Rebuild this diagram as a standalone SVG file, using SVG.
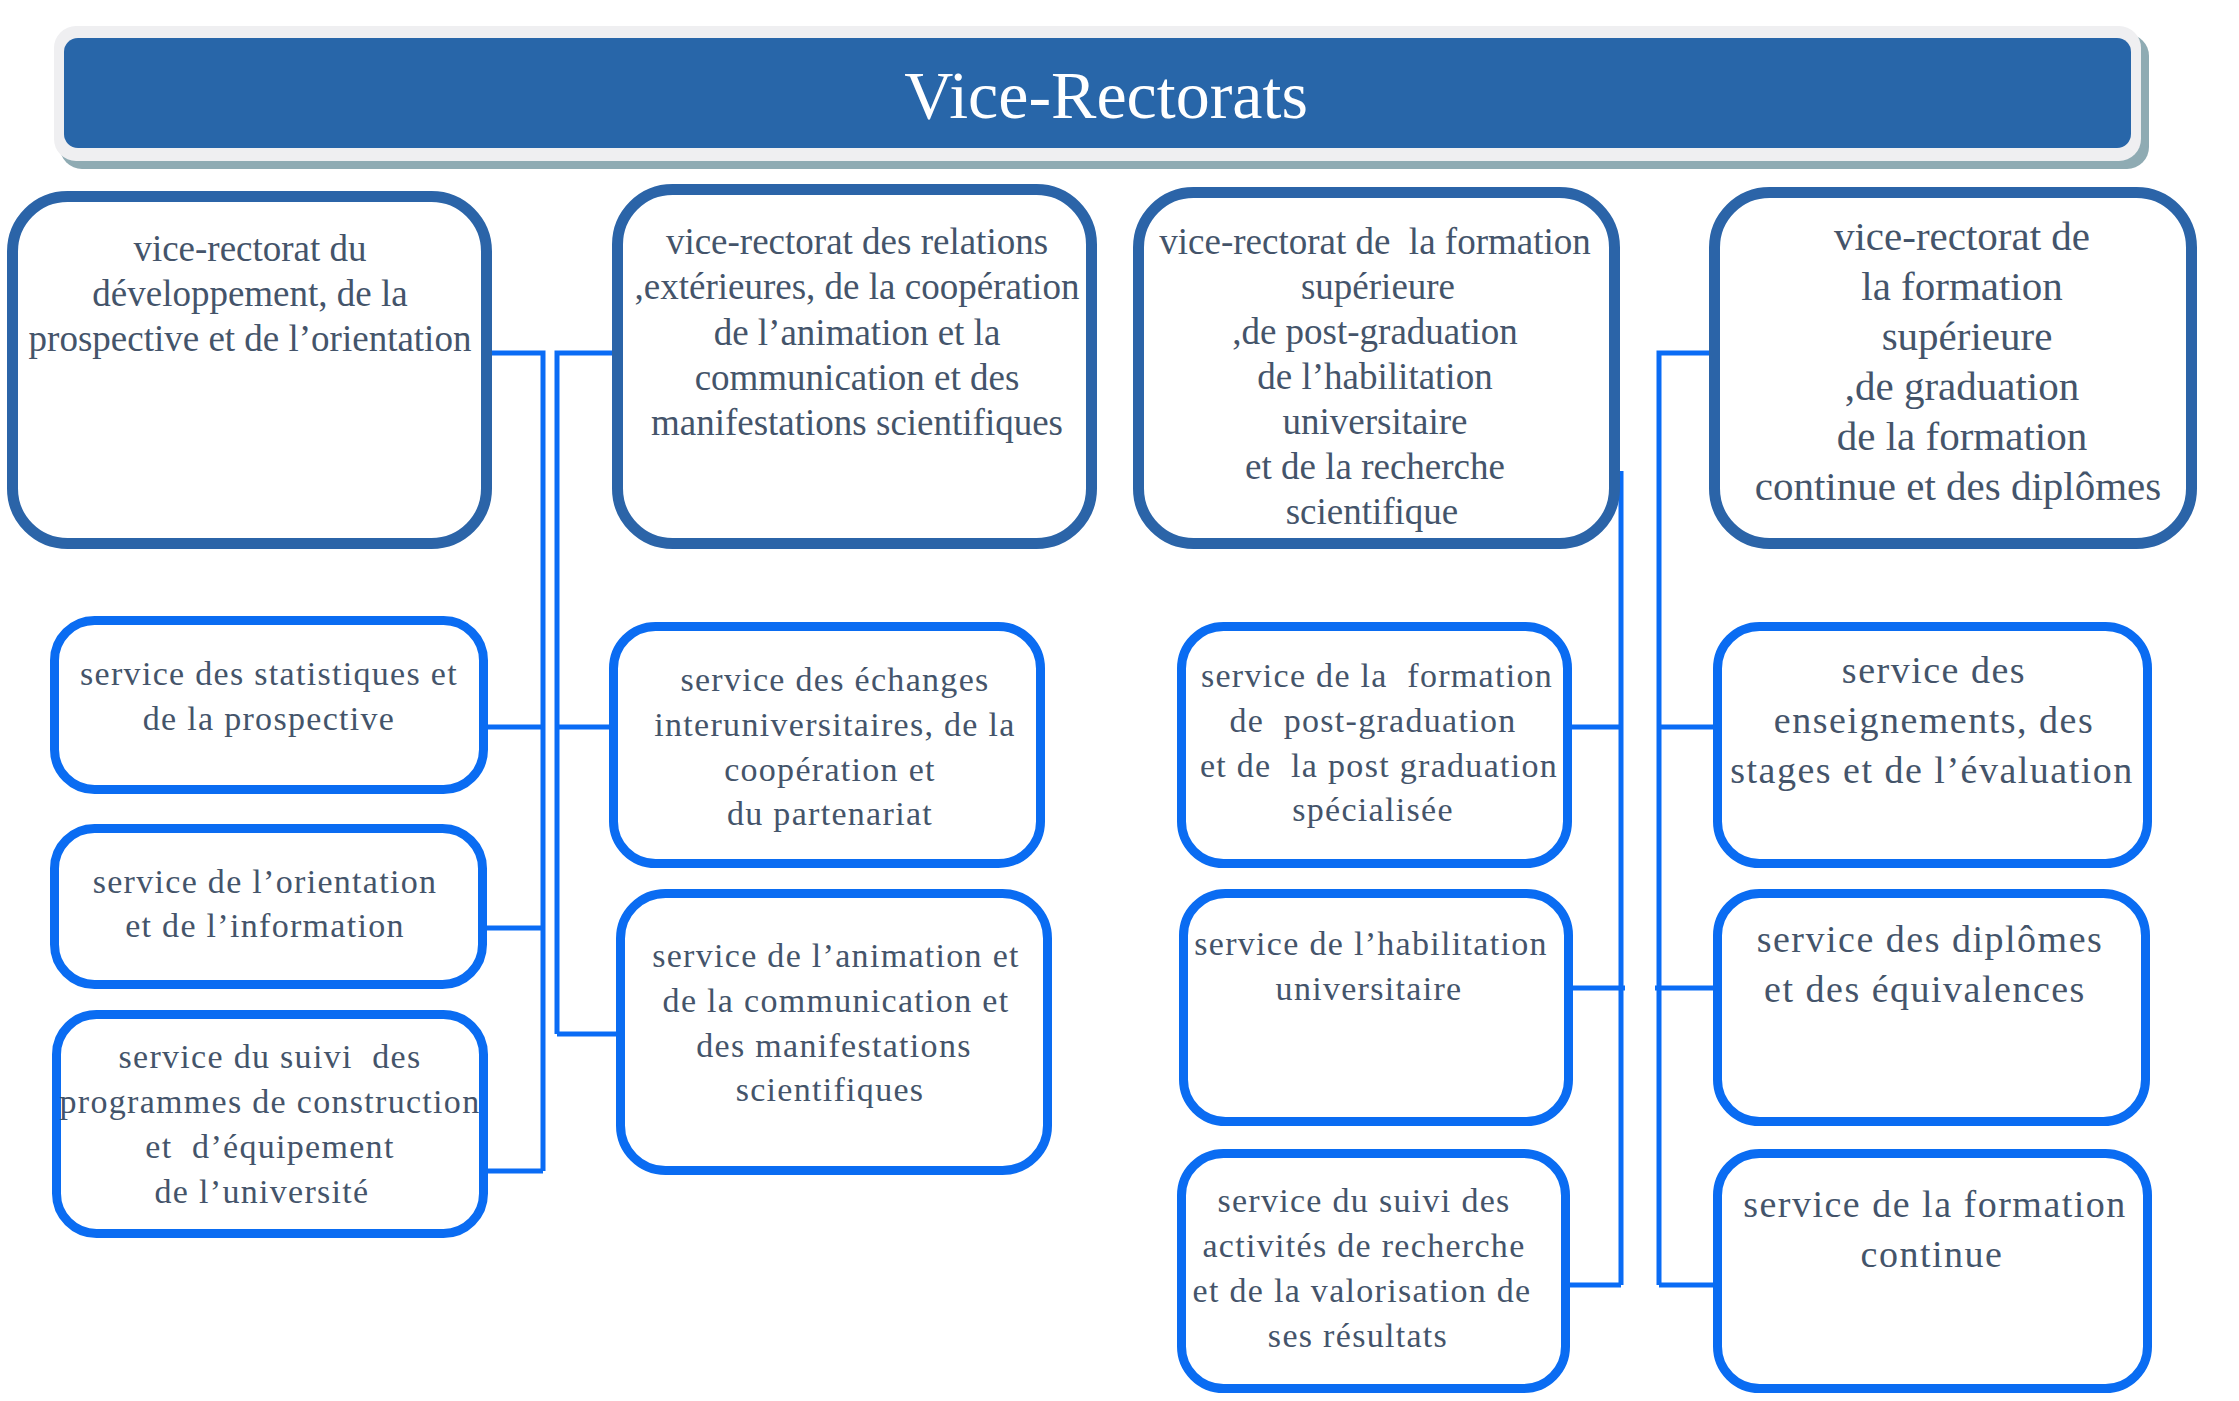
<svg xmlns="http://www.w3.org/2000/svg" width="2239" height="1401" viewBox="0 0 2239 1401">
<defs>
<style>
.vr{fill:#fff;stroke:#2b64a8;stroke-width:11}
.sv{fill:#fff;stroke:#0a6cf2;stroke-width:9}
.t{font-family:"Liberation Serif","Times New Roman",serif;fill:#44546a;text-anchor:middle;white-space:pre}
.t1{font-size:37px}
.t2{font-size:41px}
.s1{font-size:34px;letter-spacing:1.3px}
.s2{font-size:38px;letter-spacing:1.5px}
.con{fill:none;stroke:#0a6cf5;stroke-width:5}
</style>
</defs>
<rect width="2239" height="1401" fill="#fff"/>
<g id="title">
<rect x="60" y="34" width="2089" height="135" rx="22" fill="#8fabb3"/>
<rect x="54" y="26" width="2087" height="135" rx="22" fill="#efeff1"/>
<rect x="64" y="38" width="2067" height="110" rx="14" fill="#2866a9"/>
<text x="1106" y="118" font-family="Liberation Serif, Times New Roman, serif" font-size="68" fill="#fff" text-anchor="middle">Vice-Rectorats</text>
</g>
<g id="connectors">
<path class="con" d="M490 353H543V1171M487 727H543M486 928H543M487 1171H543"/>
<path class="con" d="M614 353H557V1034M557 727H610M557 1034H617"/>
<path class="con" d="M1621 471V1285M1571 727H1621M1572 988H1625M1569 1285H1621"/>
<path class="con" d="M1711 353H1659V1285M1659 727H1714M1655 988H1714M1659 1285H1714"/>
</g>
<g id="vr1">
<rect class="vr" x="12.5" y="196.5" width="474" height="347" rx="55"/>
<text class="t t1"><tspan x="250" y="261">vice-rectorat du</tspan><tspan x="250" y="306">développement, de la</tspan><tspan x="250" y="351">prospective et de l’orientation</tspan></text>
</g>
<g id="vr2">
<rect class="vr" x="617.5" y="189.5" width="474" height="354" rx="55"/>
<text class="t t1"><tspan x="857" y="254">vice-rectorat des relations</tspan><tspan x="857" y="299">,extérieures, de la coopération</tspan><tspan x="857" y="345">de l’animation et la</tspan><tspan x="857" y="390">communication et des</tspan><tspan x="857" y="435">manifestations scientifiques</tspan></text>
</g>
<g id="vr3">
<rect class="vr" x="1138.5" y="192.5" width="476" height="351" rx="55"/>
<text class="t t1"><tspan x="1375" y="254">vice-rectorat de  la formation</tspan><tspan x="1378" y="299">supérieure</tspan><tspan x="1375" y="344">,de post-graduation</tspan><tspan x="1375" y="389">de l’habilitation</tspan><tspan x="1375" y="434">universitaire</tspan><tspan x="1375" y="479">et de la recherche</tspan><tspan x="1372" y="524">scientifique</tspan></text>
</g>
<g id="vr4">
<rect class="vr" x="1714.5" y="192.5" width="477" height="351" rx="55"/>
<text class="t t2"><tspan x="1962" y="250">vice-rectorat de</tspan><tspan x="1962" y="300">la formation</tspan><tspan x="1967" y="350">supérieure</tspan><tspan x="1962" y="400">,de graduation</tspan><tspan x="1962" y="450">de la formation</tspan><tspan x="1958" y="500">continue et des diplômes</tspan></text>
</g>
<g id="s1">
<rect class="sv" x="54.5" y="620.5" width="429" height="169" rx="40"/>
<text class="t s1"><tspan x="269" y="685">service des statistiques et</tspan><tspan x="269" y="730">de la prospective</tspan></text>
</g>
<g id="s2">
<rect class="sv" x="54.5" y="828.5" width="428" height="156" rx="40"/>
<text class="t s1"><tspan x="265" y="893">service de l’orientation</tspan><tspan x="265" y="937">et de l’information</tspan></text>
</g>
<g id="s3">
<rect class="sv" x="56.5" y="1014.5" width="427" height="219" rx="40"/>
<text class="t s1"><tspan x="270" y="1068">service du suivi  des</tspan><tspan x="270" y="1113">programmes de construction</tspan><tspan x="270" y="1158">et  d’équipement</tspan><tspan x="262" y="1203">de l’université</tspan></text>
</g>
<g id="s4">
<rect class="sv" x="613.5" y="626.5" width="427" height="237" rx="42"/>
<text class="t s1"><tspan x="835" y="691">service des échanges</tspan><tspan x="835" y="736">interuniversitaires, de la</tspan><tspan x="830" y="781">coopération et</tspan><tspan x="830" y="825">du partenariat</tspan></text>
</g>
<g id="s5">
<rect class="sv" x="620.5" y="893.5" width="427" height="277" rx="45"/>
<text class="t s1"><tspan x="836" y="967">service de l’animation et</tspan><tspan x="836" y="1012">de la communication et</tspan><tspan x="834" y="1057">des manifestations</tspan><tspan x="830" y="1101">scientifiques</tspan></text>
</g>
<g id="s6">
<rect class="sv" x="1181.5" y="626.5" width="386" height="237" rx="42"/>
<text class="t s1"><tspan x="1377" y="687">service de la  formation</tspan><tspan x="1373" y="732">de  post-graduation</tspan><tspan x="1379" y="777">et de  la post graduation</tspan><tspan x="1373" y="821">spécialisée</tspan></text>
</g>
<g id="s7">
<rect class="sv" x="1183.5" y="893.5" width="385" height="228" rx="42"/>
<text class="t s1"><tspan x="1371" y="955">service de l’habilitation</tspan><tspan x="1369" y="1000">universitaire</tspan></text>
</g>
<g id="s8">
<rect class="sv" x="1181.5" y="1153.5" width="384" height="235" rx="42"/>
<text class="t s1"><tspan x="1364" y="1212">service du suivi des</tspan><tspan x="1364" y="1257">activités de recherche</tspan><tspan x="1362" y="1302">et de la valorisation de</tspan><tspan x="1358" y="1347">ses résultats</tspan></text>
</g>
<g id="s9">
<rect class="sv" x="1717.5" y="626.5" width="430" height="237" rx="42"/>
<text class="t s2"><tspan x="1934" y="683">service des</tspan><tspan x="1934" y="733">enseignements, des</tspan><tspan x="1932" y="783">stages et de l’évaluation</tspan></text>
</g>
<g id="s10">
<rect class="sv" x="1717.5" y="893.5" width="428" height="228" rx="42"/>
<text class="t s2"><tspan x="1930" y="952">service des diplômes</tspan><tspan x="1925" y="1002">et des équivalences</tspan></text>
</g>
<g id="s11">
<rect class="sv" x="1717.5" y="1153.5" width="430" height="235" rx="42"/>
<text class="t s2"><tspan x="1935" y="1217">service de la formation</tspan><tspan x="1932" y="1267">continue</tspan></text>
</g>
</svg>
